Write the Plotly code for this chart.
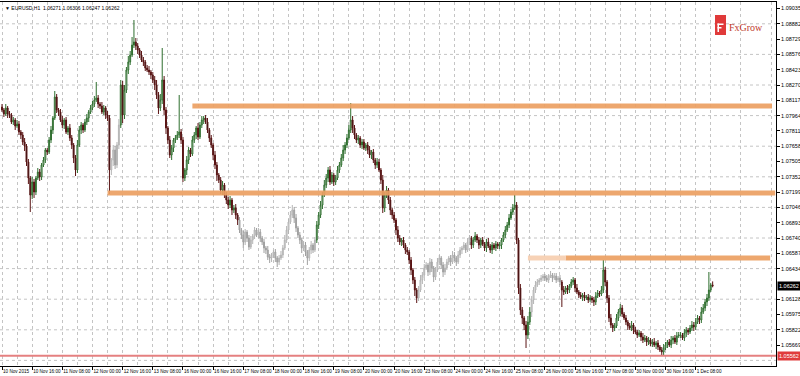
import plotly.graph_objects as go

symbol = "EURUSD,H1"
first_open = 1.0805

# hourly closes, one list per trading day
nov10_close = [1.0802,1.0798,1.0804,1.0798,1.0797,1.0790,1.0792,1.0786,1.0788,1.0780,1.0777,1.0770,1.0766,1.0750,1.0734,1.0717,1.0730,1.0720,1.0734,1.0740,1.0735,1.0747,1.0752,1.0762]
nov11_close = [1.0760,1.0772,1.0782,1.0794,1.0815,1.0802,1.0800,1.0792,1.0787,1.0792,1.0780,1.0784,1.0774,1.0767,1.0754,1.0742,1.0767,1.0782,1.0787,1.0782,1.0790,1.0794,1.0800,1.0804]
nov12_close = [1.0808,1.0812,1.0814,1.0808,1.0806,1.0800,1.0804,1.0797,1.0794,1.0742,1.0752,1.0762,1.0747,1.0767,1.0787,1.0827,1.0797,1.0822,1.0842,1.0850,1.0857,1.0867,1.0870,1.0866]
nov13_close = [1.0862,1.0857,1.0852,1.0850,1.0844,1.0842,1.0840,1.0837,1.0832,1.0827,1.0817,1.0804,1.0812,1.0832,1.0802,1.0784,1.0772,1.0757,1.0764,1.0772,1.0774,1.0777,1.0780,1.0772]
nov16_close = [1.0734,1.0742,1.0752,1.0762,1.0758,1.0772,1.0777,1.0784,1.0775,1.0787,1.0792,1.0794,1.0790,1.0782,1.0774,1.0767,1.0757,1.0747,1.0737,1.0732,1.0722,1.0727,1.0717,1.0712]
nov17_close = [1.0707,1.0712,1.0702,1.0704,1.0697,1.0692,1.0682,1.0677,1.0670,1.0680,1.0674,1.0665,1.0672,1.0676,1.0682,1.0677,1.0680,1.0674,1.0670,1.0664,1.0662,1.0655,1.0654,1.0657]
nov18_close = [1.0660,1.0654,1.0650,1.0654,1.0657,1.0664,1.0672,1.0682,1.0690,1.0697,1.0702,1.0694,1.0684,1.0677,1.0672,1.0664,1.0667,1.0660,1.0654,1.0662,1.0667,1.0662,1.0672,1.0687]
nov19_close = [1.0697,1.0707,1.0717,1.0727,1.0734,1.0742,1.0730,1.0737,1.0730,1.0734,1.0742,1.0747,1.0754,1.0762,1.0767,1.0774,1.0782,1.0792,1.0784,1.0777,1.0772,1.0774,1.0767,1.0770]
nov20_close = [1.0764,1.0767,1.0762,1.0757,1.0760,1.0752,1.0747,1.0750,1.0742,1.0732,1.0704,1.0717,1.0722,1.0712,1.0702,1.0697,1.0692,1.0682,1.0674,1.0670,1.0672,1.0667,1.0662,1.0660]
nov23_close = [1.0652,1.0642,1.0632,1.0622,1.0614,1.0622,1.0632,1.0637,1.0644,1.0647,1.0640,1.0650,1.0644,1.0635,1.0642,1.0650,1.0654,1.0647,1.0640,1.0644,1.0650,1.0654,1.0650,1.0657]
nov24_close = [1.0654,1.0650,1.0657,1.0662,1.0664,1.0667,1.0662,1.0670,1.0674,1.0667,1.0672,1.0676,1.0672,1.0667,1.0672,1.0668,1.0664,1.0670,1.0666,1.0662,1.0667,1.0664,1.0668,1.0666]
nov25_close = [1.0667,1.0672,1.0677,1.0682,1.0687,1.0694,1.0700,1.0704,1.0707,1.0672,1.0624,1.0602,1.0594,1.0587,1.0577,1.0590,1.0600,1.0612,1.0622,1.0627,1.0630,1.0632,1.0634,1.0636]
nov26_close = [1.0634,1.0632,1.0636,1.0637,1.0634,1.0636,1.0632,1.0634,1.0630,1.0622,1.0620,1.0624,1.0622,1.0626,1.0630,1.0632,1.0624,1.0620,1.0617,1.0615,1.0617,1.0614,1.0615,1.0612]
nov27_close = [1.0614,1.0612,1.0610,1.0616,1.0619,1.0618,1.0622,1.0642,1.0630,1.0614,1.0594,1.0587,1.0584,1.0586,1.0594,1.0600,1.0604,1.0598,1.0594,1.0590,1.0586,1.0584,1.0587,1.0582]
nov30_close = [1.0580,1.0577,1.0579,1.0575,1.0572,1.0574,1.0570,1.0572,1.0568,1.0570,1.0567,1.0569,1.0565,1.0562,1.0560,1.0564,1.0567,1.0570,1.0567,1.0572,1.0574,1.0570,1.0576,1.0577]
dec01_close = [1.0577,1.0574,1.0579,1.0582,1.0580,1.0584,1.0587,1.0585,1.0590,1.0594,1.0592,1.0600,1.0604,1.0610,1.0614,1.0622,1.06271,1.06262]

# wick lengths in pips above / below the body
nov10_up = [3,2,4,2,3,2,3,2,4,3,2,3,4,2,3,2,5,3,2,4,3,2,3,2]
nov10_dn = [2,3,2,4,3,2,3,4,2,3,4,3,5,4,6,17,4,6,3,2,4,3,2,3]
nov11_up = [2,3,4,2,6,3,2,3,4,2,3,2,4,3,2,3,5,4,3,2,3,4,2,3]
nov11_dn = [3,2,3,4,2,3,4,2,3,4,2,3,3,4,5,6,3,2,4,3,2,3,4,2]
nov12_up = [3,4,16,3,2,4,3,2,4,3,2,5,4,3,6,5,4,5,3,6,4,8,22,4]
nov12_dn = [2,3,2,4,3,2,3,4,3,24,5,6,4,3,4,3,8,4,3,4,3,2,3,4]
nov13_up = [3,2,4,3,2,3,4,2,3,4,5,3,6,32,4,3,2,4,3,2,3,4,37,3]
nov13_dn = [4,3,2,4,3,2,3,4,3,5,4,6,3,4,5,6,4,3,5,4,3,2,3,4]
nov16_up = [3,2,4,3,2,4,3,2,5,3,4,2,3,4,2,3,2,4,3,2,3,4,2,3]
nov16_dn = [4,3,5,4,3,2,3,4,3,2,3,4,2,3,4,3,5,4,6,3,4,5,3,4]
nov17_up = [3,4,2,3,4,2,3,2,4,3,2,3,4,2,3,2,4,3,2,3,2,4,3,2]
nov17_dn = [4,3,5,3,4,5,3,4,6,3,4,3,2,4,3,2,3,4,3,5,4,3,5,4]
nov18_up = [2,3,2,3,4,3,5,4,3,4,5,3,4,2,3,2,4,3,2,3,4,2,3,4]
nov18_dn = [3,4,5,3,2,3,2,3,4,2,3,5,4,3,4,5,3,4,7,3,4,3,2,3]
nov19_up = [3,4,3,5,4,3,4,3,2,3,4,3,4,5,3,4,5,17,4,3,2,3,2,3]
nov19_dn = [4,3,4,2,3,4,3,2,4,3,2,3,2,3,4,3,2,3,5,4,3,4,3,4]
nov20_up = [3,2,3,4,2,3,2,4,3,2,5,3,4,2,3,2,3,2,4,3,2,3,2,3]
nov20_dn = [2,3,4,3,4,3,4,3,2,4,5,4,3,4,5,4,3,5,4,3,4,3,4,3]
nov23_up = [2,3,2,3,2,4,5,3,4,3,2,4,3,2,3,4,3,2,3,4,3,2,3,4]
nov23_dn = [4,5,4,6,5,3,2,4,3,2,4,3,4,5,3,2,3,4,5,3,2,3,4,2]
nov24_up = [3,2,4,3,2,3,2,4,3,2,3,4,2,3,2,3,2,3,4,2,3,2,3,2]
nov24_dn = [3,4,2,3,4,2,3,2,3,4,3,2,3,4,3,2,3,4,2,3,4,2,3,3]
nov25_up = [3,2,3,4,3,4,3,4,10,3,2,4,3,2,4,6,5,4,3,4,3,2,3,2]
nov25_dn = [3,4,2,3,2,3,2,3,2,4,6,5,6,5,13,4,3,5,4,3,2,3,2,3]
nov26_up = [2,3,2,4,2,3,3,2,3,2,4,2,3,2,3,3,2,4,2,3,2,3,2,3]
nov26_dn = [3,2,3,2,4,2,3,2,3,17,3,2,4,3,2,3,4,2,3,2,4,3,2,3]
nov27_up = [3,2,3,4,3,2,4,10,3,2,3,4,2,3,4,3,4,3,2,3,2,3,4,2]
nov27_dn = [2,3,4,3,2,3,2,3,4,5,4,3,4,3,2,3,4,3,2,3,4,2,3,4]
nov30_up = [3,2,3,2,4,3,2,3,2,3,4,2,3,2,3,4,3,2,3,4,2,3,4,3]
nov30_dn = [2,3,2,4,3,2,4,3,2,3,2,4,3,2,4,3,2,3,2,3,4,2,3,2]
dec01_up = [3,2,4,3,2,3,4,3,4,3,2,5,4,3,4,18,2,3.5]
dec01_dn = [3,2,3,4,3,2,3,4,3,2,4,3,2,3,4,3,2,1.5]

time_labels = ["10 Nov 2015","10 Nov 16:00","11 Nov 08:00","12 Nov 00:00","12 Nov 16:00",
               "13 Nov 08:00","16 Nov 00:00","16 Nov 16:00","17 Nov 08:00","18 Nov 00:00",
               "18 Nov 16:00","19 Nov 08:00","20 Nov 00:00","20 Nov 16:00","23 Nov 08:00",
               "24 Nov 00:00","24 Nov 16:00","25 Nov 08:00","26 Nov 00:00","26 Nov 16:00",
               "27 Nov 08:00","30 Nov 00:00","30 Nov 16:00","1 Dec 08:00"]
bars_per_label = 16
bars_per_grid = 8

price_ticks = [1.09035,1.08882,1.08729,1.08576,1.08423,1.08270,1.08117,1.07964,1.07811,
               1.07658,1.07505,1.07352,1.07199,1.07046,1.06893,1.06740,1.06587,1.06434,
               1.06281,1.06128,1.05975,1.05822,1.05669,1.05516]
hidden_ticks = [1.06281, 1.05516]

# horizontal levels drawn on the chart: price, first bar, last bar
level_price = [1.0806, 1.0719, 1.0654]
level_start = [101, 56, 299]
level_end = [408.5, 410.2, 407.5]
faint_level_start = 279
support_price = 1.05562

# bars drawn faded (grey) in the original
grey_ranges = [(58, 62), (126, 166), (221, 248), (281, 296)]

closes_days = [nov10_close, nov11_close, nov12_close, nov13_close, nov16_close, nov17_close,
               nov18_close, nov19_close, nov20_close, nov23_close, nov24_close, nov25_close,
               nov26_close, nov27_close, nov30_close, dec01_close]
up_days = [nov10_up, nov11_up, nov12_up, nov13_up, nov16_up, nov17_up, nov18_up, nov19_up,
           nov20_up, nov23_up, nov24_up, nov25_up, nov26_up, nov27_up, nov30_up, dec01_up]
dn_days = [nov10_dn, nov11_dn, nov12_dn, nov13_dn, nov16_dn, nov17_dn, nov18_dn, nov19_dn,
           nov20_dn, nov23_dn, nov24_dn, nov25_dn, nov26_dn, nov27_dn, nov30_dn, dec01_dn]

close = [c for d in closes_days for c in d]
up = [u for d in up_days for u in d]
dn = [v for d in dn_days for v in d]
n = len(close)
opn = [first_open] + close[:-1]
high = [max(o, c) + u * 1e-4 for o, c, u in zip(opn, close, up)]
low = [min(o, c) - v * 1e-4 for o, c, v in zip(opn, close, dn)]
idx = list(range(n))

def is_grey(i):
    return any(a <= i <= b for a, b in grey_ranges)

normal = [i for i in idx if not is_grey(i)]
grey = [i for i in idx if is_grey(i)]

def sub(arr, ids):
    return [arr[i] for i in ids]

fig = go.Figure()
fig.add_trace(go.Candlestick(
    x=normal, open=sub(opn, normal), high=sub(high, normal), low=sub(low, normal), close=sub(close, normal),
    increasing=dict(line=dict(color="#2e6e2e", width=1), fillcolor="#ffffff"),
    decreasing=dict(line=dict(color="#5a1414", width=1), fillcolor="#000000"),
    whiskerwidth=0, hoverinfo="skip", showlegend=False))
fig.add_trace(go.Candlestick(
    x=grey, open=sub(opn, grey), high=sub(high, grey), low=sub(low, grey), close=sub(close, grey),
    increasing=dict(line=dict(color="#b4b4b4", width=1), fillcolor="#e6e6e6"),
    decreasing=dict(line=dict(color="#a0a0a0", width=1), fillcolor="#bdbdbd"),
    whiskerwidth=0, hoverinfo="skip", showlegend=False))

shapes = []
# horizontal dotted grid at every second price label
for v in price_ticks[1::2]:
    shapes.append(dict(type="line", xref="paper", yref="y", x0=0, x1=1, y0=v, y1=v,
                       line=dict(color="#c4c4c4", width=1, dash="dot"), layer="below"))
# levels
for p, s, e in zip(level_price, level_start, level_end):
    shapes.append(dict(type="line", xref="x", yref="y", x0=s, x1=e, y0=p, y1=p,
                       line=dict(color="rgba(236,160,98,0.92)", width=5), layer="above"))
shapes.append(dict(type="line", xref="x", yref="y", x0=faint_level_start, x1=level_start[2],
                   y0=level_price[2], y1=level_price[2],
                   line=dict(color="rgba(247,208,178,0.95)", width=5), layer="above"))
# support line
shapes.append(dict(type="line", xref="paper", yref="y", x0=0, x1=1, y0=support_price, y1=support_price,
                   line=dict(color="#e58080", width=2), layer="above"))

# FxGrow logo (decoration)
W, H0, H1 = 776.0, 2.0, 366.0
def px(x):
    return x / W
def py(y):
    return (H1 - y) / (H1 - H0)
shapes.append(dict(type="rect", xref="paper", yref="paper", x0=px(715), x1=px(726), y0=py(35), y1=py(15),
                   fillcolor="#e03a3a", line=dict(width=0), layer="above"))
for (x0, x1, y0, y1) in [(717.5, 723.5, 23.5, 25), (717.5, 721.5, 27, 28.5), (717.5, 719, 23.5, 32)]:
    shapes.append(dict(type="rect", xref="paper", yref="paper", x0=px(x0), x1=px(x1), y0=py(y1), y1=py(y0),
                       fillcolor="#ffffff", line=dict(width=0), layer="above"))

annotations = [
    dict(text="▼ " + symbol + "  1.06271 1.06306 1.06247 1.06262", xref="paper", yref="paper",
         x=0, y=1, xanchor="left", yanchor="top", xshift=3, yshift=-1, showarrow=False,
         font=dict(size=5, color="#000000", family="Liberation Sans")),
    dict(text="FxGrow", xref="paper", yref="paper", x=px(727), y=py(28), xanchor="left", yanchor="middle",
         showarrow=False, font=dict(size=10, color="#c0392b", family="Liberation Serif")),
    dict(text="%.5f" % close[-1], xref="paper", yref="y", x=1, y=close[-1], xanchor="left", yanchor="middle",
         xshift=1, showarrow=False, bgcolor="#000000", borderpad=1,
         font=dict(size=5.5, color="#ffffff", family="Liberation Sans")),
    dict(text="%.5f" % support_price, xref="paper", yref="y", x=1, y=support_price, xanchor="left",
         yanchor="middle", xshift=1, showarrow=False, bgcolor="#e03c3c", borderpad=1,
         font=dict(size=5.5, color="#ffffff", family="Liberation Sans")),
]

label_vals = [k * bars_per_label for k in range(len(time_labels))]
minor_vals = [k * bars_per_grid for k in range(0, 52) if (k * bars_per_grid) % bars_per_label != 0]
shown_ticks = [v for v in price_ticks if v not in hidden_ticks]

fig.update_layout(
    width=800, height=376, margin=dict(l=0, r=24, t=2, b=10),
    paper_bgcolor="#ffffff", plot_bgcolor="#ffffff",
    hovermode=False, showlegend=False, shapes=shapes, annotations=annotations,
    xaxis=dict(range=[-1.061, 410.61], rangeslider=dict(visible=False),
               tickmode="array", tickvals=label_vals, ticktext=time_labels, tickangle=0,
               ticklabelposition="outside right", ticks="outside", ticklen=3, tickcolor="#000000",
               tickfont=dict(size=4.6, color="#000000", family="Liberation Sans"),
               showgrid=True, gridcolor="#c4c4c4", griddash="dot", gridwidth=1,
               minor=dict(tickmode="array", tickvals=minor_vals, showgrid=True, gridcolor="#c4c4c4",
                          griddash="dot", gridwidth=1, ticks=""),
               showline=True, linecolor="#000000", linewidth=1, mirror=True, zeroline=False),
    yaxis=dict(range=[1.0546, 1.0910], side="right", tickmode="array", tickvals=shown_ticks,
               ticktext=["%.5f" % v for v in shown_ticks], ticks="outside", ticklen=3, tickcolor="#000000",
               tickfont=dict(size=5.5, color="#000000", family="Liberation Sans"),
               showgrid=False, showline=True, linecolor="#000000", linewidth=1, zeroline=False),
)

fig.write_html("out.html")
